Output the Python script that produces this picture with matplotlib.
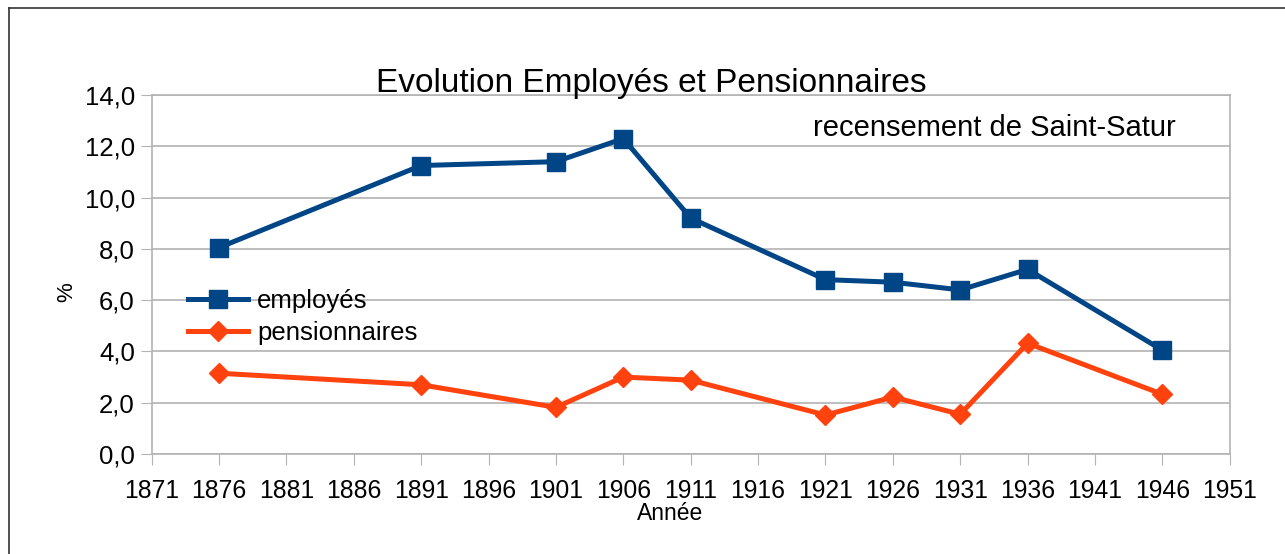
"""
Evolution employes / pensionnaires, recensement de Saint-Satur.
"""

import matplotlib
matplotlib.use("Agg")
import matplotlib.pyplot as plt
from matplotlib.lines import Line2D
from matplotlib.ticker import FuncFormatter

plt.rcParams['font.family'] = ['Liberation Sans', 'DejaVu Sans']

# census years and shares (%)
annees = [1876, 1891, 1901, 1906, 1911, 1921, 1926, 1931, 1936, 1946]
employes = [8.05, 11.25, 11.4, 12.3, 9.2, 6.8, 6.7, 6.4, 7.2, 4.05]
pensionnaires = [3.15, 2.7, 1.82, 3.0, 2.88, 1.52, 2.22, 1.55, 4.32, 2.33]
x_ticks = list(range(1871, 1952, 5))
y_ticks = [0, 2, 4, 6, 8, 10, 12, 14]

fig = plt.figure(figsize=(12.85, 5.54), dpi=100)
ax = fig.add_axes([0.118, 0.1805, 0.839, 0.648])

ax.plot(annees, employes, color='#004586', lw=3.6, marker='s', ms=13,
        label='employés', zorder=3)
ax.plot(annees, pensionnaires, color='#ff420e', lw=3.6, marker='D', ms=10.5,
        label='pensionnaires', zorder=3)

ax.set_xlim(1871, 1951)
ax.set_ylim(0, 14)
ax.set_xticks(x_ticks)
ax.set_yticks(y_ticks)
ax.yaxis.set_major_formatter(FuncFormatter(lambda v, p: ('%.1f' % v).replace('.', ',')))
ax.tick_params(length=8, color='#b3b3b3', direction='out')
ax.tick_params(axis='x', labelsize=17.8, pad=10)
ax.tick_params(axis='y', labelsize=18.5, pad=4)
ax.grid(axis='y', color='#b3b3b3', lw=1.2)
ax.set_axisbelow(True)
for s in ax.spines.values():
    s.set_color('#b3b3b3')
    s.set_linewidth(1.2)

# axis titles, placed where the original puts them
fig.text(670 / 1285, 1 - 514 / 554, 'Année', fontsize=16.5, ha='center', va='center')
fig.text(67 / 1285, 1 - 292 / 554, '%', fontsize=16, ha='center', va='center',
         rotation=90)

fig.text(651 / 1285, 1 - 84 / 554, 'Evolution Employés et Pensionnaires', fontsize=24,
         ha='center', va='center')
fig.text(994 / 1285, 1 - 128 / 554, 'recensement de Saint-Satur', fontsize=21,
         ha='center', va='center')

ax.legend(loc='upper left', bbox_to_anchor=(188 / 1285, 0.478),
          bbox_transform=fig.transFigure,
          frameon=False, fontsize=18.5, handlelength=2.33, handletextpad=0.35,
          labelspacing=0.3, borderaxespad=0, borderpad=0)

# outer frame (top and left edges only are visible)
fig.add_artist(Line2D([0.007, 1.0], [0.985, 0.985], color='#333333', lw=1.2,
                      transform=fig.transFigure))
fig.add_artist(Line2D([0.007, 0.007], [0.0, 0.985], color='#333333', lw=1.2,
                      transform=fig.transFigure))

fig.savefig('out.png', dpi=100)
